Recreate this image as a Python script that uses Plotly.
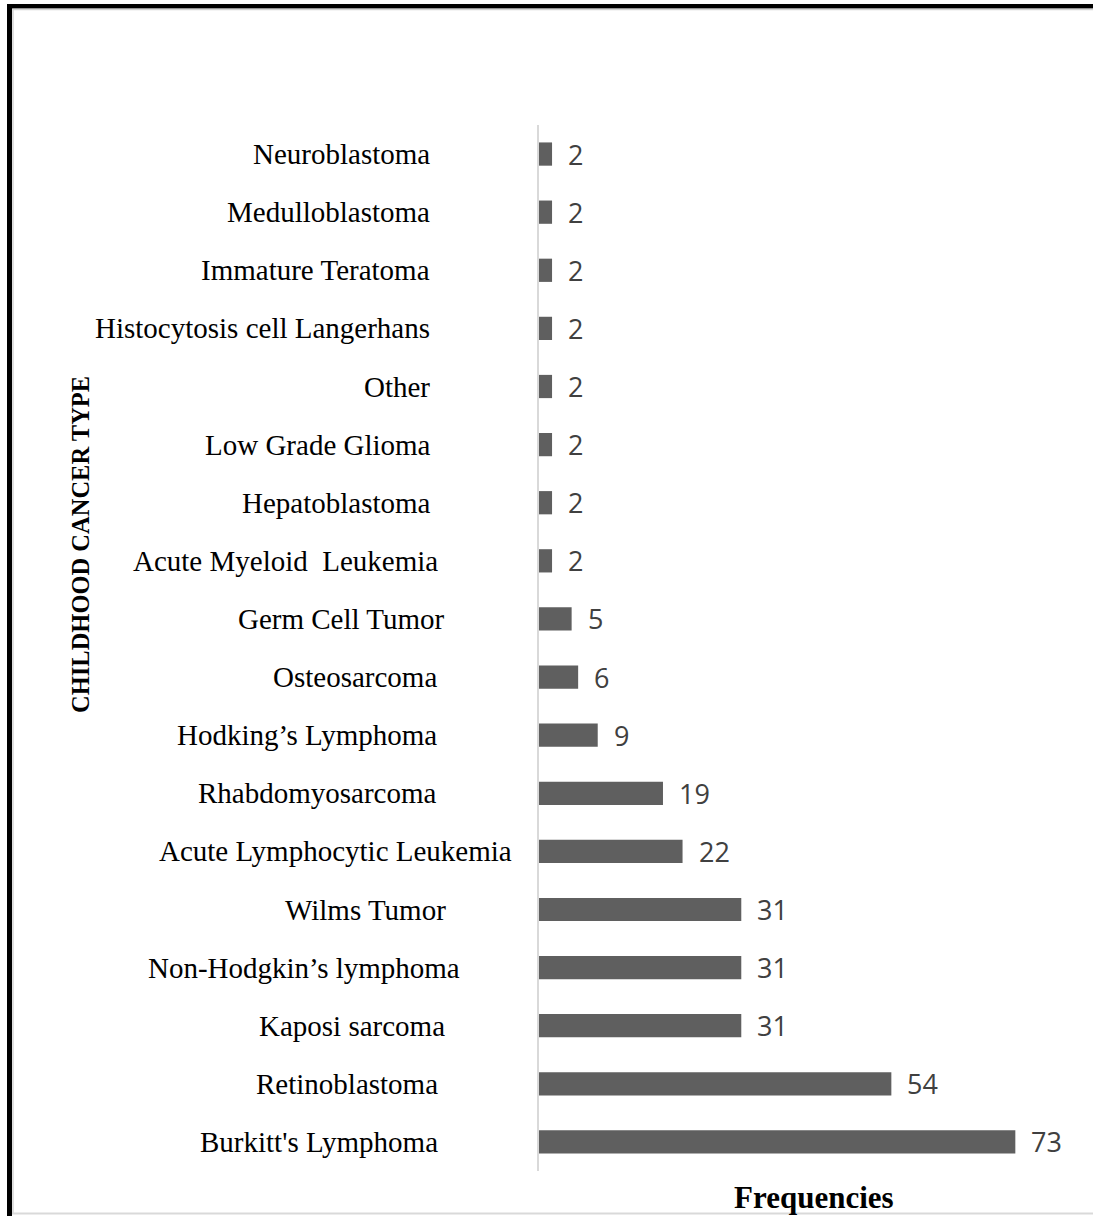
import plotly.graph_objects as go

# Childhood cancer types (top to bottom) and their frequencies
cancer_types = [
    "Neuroblastoma",
    "Medulloblastoma",
    "Immature Teratoma",
    "Histocytosis cell Langerhans",
    "Other",
    "Low Grade Glioma",
    "Hepatoblastoma",
    "Acute Myeloid\u00a0 Leukemia",
    "Germ Cell Tumor",
    "Osteosarcoma",
    "Hodking\u2019s Lymphoma",
    "Rhabdomyosarcoma",
    "Acute Lymphocytic Leukemia",
    "Wilms Tumor",
    "Non-Hodgkin\u2019s lymphoma",
    "Kaposi sarcoma",
    "Retinoblastoma",
    "Burkitt's Lymphoma",
]
frequencies = [2, 2, 2, 2, 2, 2, 2, 2, 5, 6, 9, 19, 22, 31, 31, 31, 54, 73]

x_axis_title = "Frequencies"
y_axis_title = "CHILDHOOD CANCER TYPE"

# ---- layout geometry (pixels) ----
W, H = 1093, 1216
PLOT_L, PLOT_R, PLOT_T, PLOT_B = 539, 1061, 125, 1171
X_MAX = 80
label_right_px = [432, 432, 432, 432, 432, 433, 433, 440, 447, 439,
                  439, 439, 514, 448, 462, 447, 440, 440]


def px_x(px):
    return (px - PLOT_L) / (PLOT_R - PLOT_L)


def px_y(py):
    return (PLOT_B - py) / (PLOT_B - PLOT_T)


BAR_COLOR = "#5f5f5f"
SERIF = "Liberation Serif, Times New Roman, serif"
SANS = "Open Sans, Noto Sans, sans-serif"

fig = go.Figure(
    go.Bar(
        x=frequencies,
        y=cancer_types,
        orientation="h",
        marker=dict(color=BAR_COLOR, line=dict(width=0)),
        hoverinfo="x+y",
    )
)

annotations = []
# category labels, each with its own right edge
for cat, rpx in zip(cancer_types, label_right_px):
    annotations.append(dict(
        x=px_x(rpx), xref="paper", y=cat, yref="y",
        text=cat, showarrow=False, xanchor="right", yanchor="middle",
        font=dict(family=SERIF, size=29, color="#000000"),
    ))
# value labels
for cat, v in zip(cancer_types, frequencies):
    annotations.append(dict(
        x=v, xref="x", y=cat, yref="y",
        text=str(v), showarrow=False, xanchor="left", yanchor="middle",
        xshift=14,
        font=dict(family=SANS, size=27, color="#404040"),
    ))
# axis titles
annotations.append(dict(
    x=px_x(814), xref="paper", y=px_y(1197), yref="paper",
    text="<b>%s</b>" % x_axis_title, showarrow=False,
    xanchor="center", yanchor="middle",
    font=dict(family=SERIF, size=31, color="#000000"),
))
annotations.append(dict(
    x=px_x(80), xref="paper", y=px_y(545), yref="paper",
    text="<b>%s</b>" % y_axis_title, showarrow=False, textangle=-90,
    xanchor="center", yanchor="middle",
    font=dict(family=SERIF, size=24.5, color="#000000"),
))

# frame: heavy black edge on the left and top, thin grey inner edges
shapes = [
    dict(type="rect", xref="paper", yref="paper",
         x0=px_x(7), x1=px_x(12), y0=px_y(4), y1=px_y(1216),
         fillcolor="#000000", line=dict(width=0), layer="above"),
    dict(type="rect", xref="paper", yref="paper",
         x0=px_x(7), x1=px_x(1093), y0=px_y(4), y1=px_y(8.5),
         fillcolor="#000000", line=dict(width=0), layer="above"),
    dict(type="line", xref="paper", yref="paper",
         x0=px_x(12.5), x1=px_x(1093), y0=px_y(9.5), y1=px_y(9.5),
         line=dict(color="#d4d4d4", width=1.5)),
    dict(type="line", xref="paper", yref="paper",
         x0=px_x(13), x1=px_x(13), y0=px_y(9), y1=px_y(1213),
         line=dict(color="#d4d4d4", width=1.5)),
    dict(type="line", xref="paper", yref="paper",
         x0=px_x(12), x1=px_x(1093), y0=px_y(1213.5), y1=px_y(1213.5),
         line=dict(color="#d9d9d9", width=2)),
]

fig.update_layout(
    width=W, height=H,
    margin=dict(l=PLOT_L, r=W - PLOT_R, t=PLOT_T, b=H - PLOT_B, pad=0),
    paper_bgcolor="#ffffff", plot_bgcolor="#ffffff",
    bargap=0.6,
    showlegend=False,
    annotations=annotations,
    shapes=shapes,
    xaxis=dict(range=[0, X_MAX], showgrid=False, zeroline=False,
               showticklabels=False, showline=False, ticks=""),
    yaxis=dict(categoryorder="array", categoryarray=cancer_types,
               autorange="reversed", showgrid=False, zeroline=False,
               showticklabels=False, ticks="",
               showline=True, linecolor="#d9d9d9", linewidth=2),
)

fig.write_html("out.html")
